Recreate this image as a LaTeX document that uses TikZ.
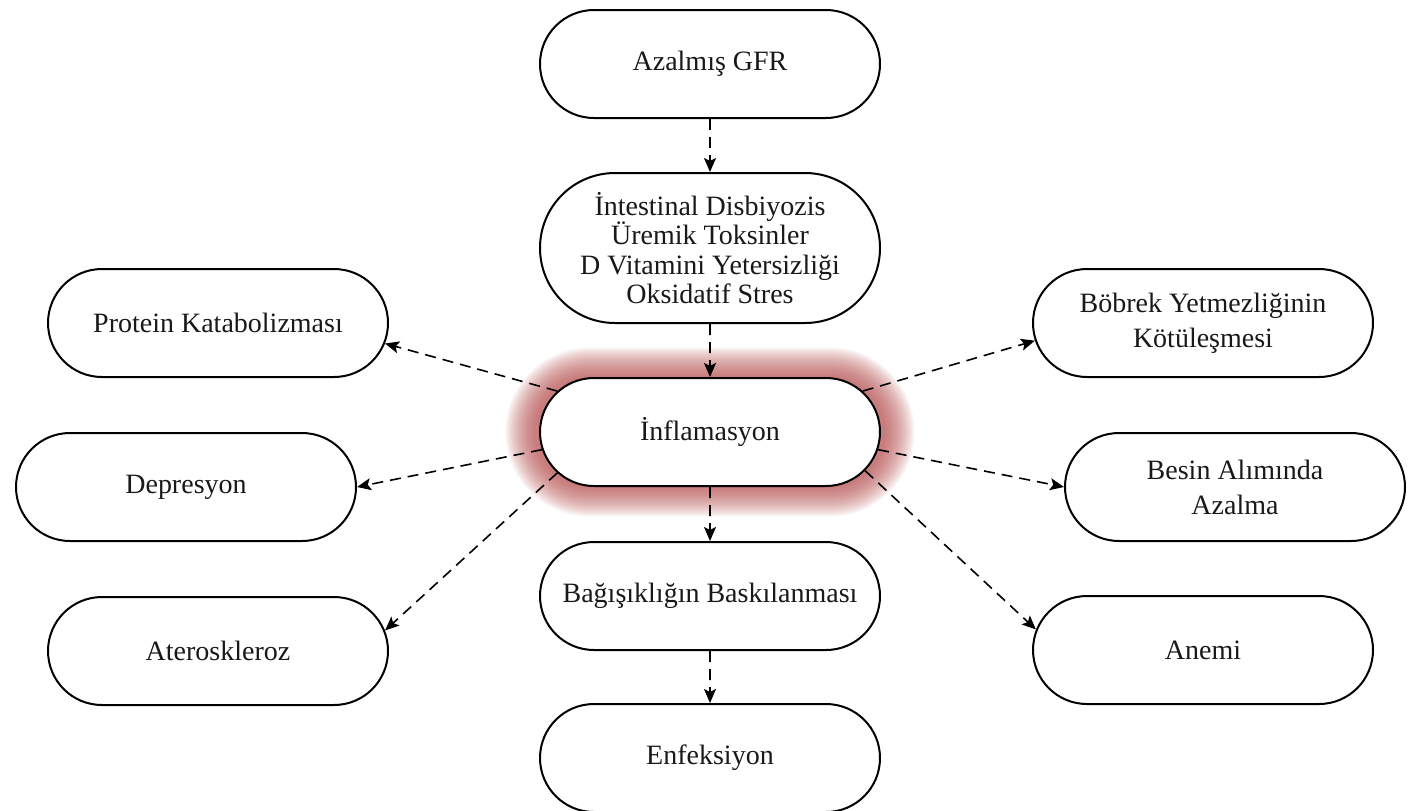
\documentclass[tikz,border=0pt]{standalone}
\usepackage{fontspec}
\setmainfont{Liberation Serif}
\usetikzlibrary{shapes.misc,arrows.meta,backgrounds}
\definecolor{glowc}{RGB}{175,65,65}
\definecolor{txt}{RGB}{25,25,25}
\begin{document}
\begin{tikzpicture}[x=0.5pt,y=-0.5pt,
  box/.style={rounded rectangle, draw=black, line width=1pt, fill=white,
    minimum width=174pt, minimum height=54pt, inner sep=2pt,
    font=\fontsize{14}{14.6}\selectfont, align=center, text=txt},
  twoline/.style={font=\fontsize{14}{17.5}\selectfont},
  conn/.style={line width=0.8pt, dash pattern=on 5.5pt off 3.5pt,
    -{Stealth[length=7pt,width=6pt,inset=1.5pt]}},
]
\useasboundingbox (0,0) rectangle (1414,810);

\node[box] (gfr) at (710,64) {Azalmış GFR};
\node[box, minimum height=75pt] (int) at (710,248) {İntestinal Disbiyozis\\Üremik Toksinler\\D Vitamini Yetersizliği\\Oksidatif Stres};
\node[box] (inf) at (710,432) {İnflamasyon};
\node[box] (bag) at (710,596) {Bağışıklığın Baskılanması};
\node[box] (enf) at (710,758) {Enfeksiyon};
\node[box] (pro) at (218,323) {Protein Katabolizması};
\node[box] (dep) at (186,487) {Depresyon};
\node[box] (ate) at (218,651) {Ateroskleroz};
\node[box, twoline] (bob) at (1203,323) {Böbrek Yetmezliğinin\\Kötüleşmesi};
\node[box, twoline] (bes) at (1235,487) {Besin Alımında\\Azalma};
\node[box] (ane) at (1203,650) {Anemi};

\begin{pgfonlayer}{background}
  \foreach \i in {1,...,16} {
    \pgfmathsetmacro{\e}{1.9*\i}
    \fill[glowc, opacity=0.07, rounded corners={(27+\e/2)*1pt}]
      ({536-\e},{378-\e}) rectangle ({884+\e},{486+\e});
  }
\end{pgfonlayer}

\draw[conn] (gfr) -- (int);
\draw[conn] (int) -- (inf);
\draw[conn] (inf) -- (bag);
\draw[conn] (bag) -- (enf);

\draw[conn] (inf.165.7) -- (pro.-7);
\draw[conn] (inf.186) -- (dep.east);
\draw[conn] (inf.195.5) -- (ate.7.4);
\draw[conn] (inf.15) -- (bob.186);
\draw[conn] (inf.-6) -- (bes.west);
\draw[conn] (inf.-14.2) -- (ane.173);
\end{tikzpicture}
\end{document}
